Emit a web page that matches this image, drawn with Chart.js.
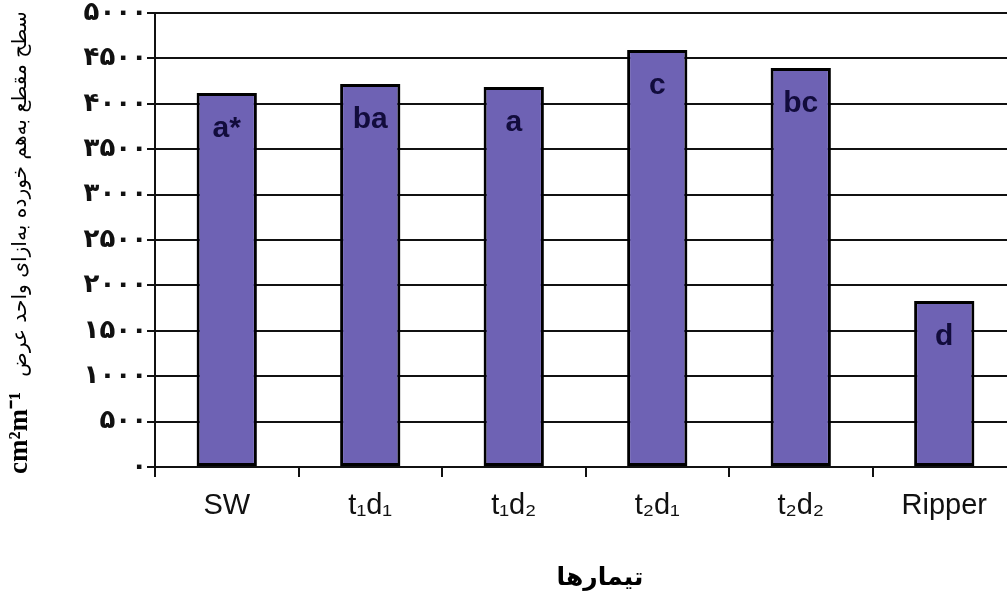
<!DOCTYPE html>
<html>
<head>
<meta charset="utf-8">
<script src="https://cdn.jsdelivr.net/npm/chart.js@4"></script>
<style>
  body { margin: 0; overflow: hidden; background: #fff; }
</style>
</head>
<body>
<canvas id="grafico" width="1016" height="599"></canvas>
<script>
const tratamentos = ['SW', 't\u2081d\u2081', 't\u2081d\u2082', 't\u2082d\u2081', 't\u2082d\u2082', 'Ripper'];
const valores = [4120, 4218, 4185, 4593, 4394, 1828];
const letras = ['a*', 'ba', 'a', 'c', 'bc', 'd'];
const rotulosY = ['۰', '۵۰۰', '۱۰۰۰', '۱۵۰۰', '۲۰۰۰', '۲۵۰۰', '۳۰۰۰', '۳۵۰۰', '۴۰۰۰', '۴۵۰۰', '۵۰۰۰'];

const tituloY = 'سطح مقطع به\u200Cهم خورده به\u200Cازای واحد عرض';
const unidade = 'cm\u00B2m\u207B\u00B9';
const tituloX = 'تیمارها';

// letters inside bars + axis titles
const textos = {
  id: 'textos',
  afterDatasetsDraw(chart) {
    const ctx = chart.ctx;
    const meta = chart.getDatasetMeta(0);
    ctx.save();
    ctx.fillStyle = '#120c3c';
    ctx.font = 'bold 30px "Liberation Sans", Arial';
    ctx.textAlign = 'center';
    ctx.textBaseline = 'middle';
    meta.data.forEach((bar, i) => {
      ctx.fillText(letras[i], bar.x, bar.y + 36);
    });
    ctx.restore();
  },
  afterDraw(chart) {
    const ctx = chart.ctx;
    ctx.save();
    ctx.fillStyle = '#000';
    ctx.textAlign = 'center';
    ctx.textBaseline = 'middle';

    ctx.save();
    ctx.translate(21, 194);
    ctx.rotate(-Math.PI / 2);
    ctx.font = '20px "DejaVu Sans"';
    const w = ctx.measureText(tituloY).width;
    const tam = 20 * 366 / w;
    ctx.font = tam.toFixed(1) + 'px "DejaVu Sans"';
    ctx.fillText(tituloY, 0, 0);
    ctx.restore();

    ctx.save();
    ctx.translate(20, 433);
    ctx.rotate(-Math.PI / 2);
    ctx.font = 'bold 27px "Liberation Serif", serif';
    ctx.fillText(unidade, 0, 0);
    ctx.restore();

    ctx.font = 'bold 25px "DejaVu Sans"';
    ctx.fillText(tituloX, 600, 578);
    ctx.restore();
  }
};

new Chart(document.getElementById('grafico'), {
  type: 'bar',
  data: {
    labels: tratamentos,
    datasets: [{
      data: valores,
      backgroundColor: '#6e62b4',
      borderColor: '#000',
      borderWidth: 3,
      borderSkipped: false,
      barPercentage: 0.42,
      categoryPercentage: 1
    }]
  },
  options: {
    responsive: false,
    animation: false,
    layout: { padding: { top: 13, left: 0, right: 0, bottom: 0 } },
    plugins: {
      legend: { display: false },
      tooltip: { enabled: false }
    },
    scales: {
      x: {
        afterFit: s => { s.height = 132; },
        grid: { drawOnChartArea: false, color: '#111', lineWidth: 2, tickLength: 10 },
        border: { color: '#111', width: 2 },
        ticks: {
          color: '#111',
          padding: 12,
          font: { family: '"Liberation Sans", Arial', size: 29 }
        }
      },
      y: {
        min: 0,
        max: 5000,
        afterFit: s => { s.width = 155; },
        grid: { color: '#111', lineWidth: 2, tickLength: 8 },
        border: { color: '#111', width: 2 },
        ticks: {
          stepSize: 500,
          padding: 0,
          color: '#111',
          font: { family: '"DejaVu Sans"', size: 26, weight: 'bold', lineHeight: 1 },
          callback: (v, i) => rotulosY[i]
        }
      }
    }
  },
  plugins: [textos]
});
</script>
</body>
</html>
